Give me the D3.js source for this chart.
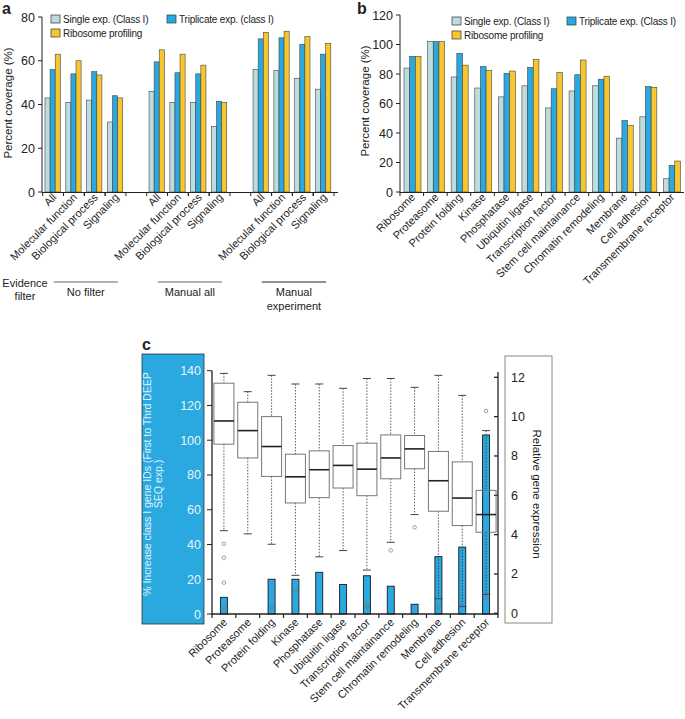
<!DOCTYPE html>
<html>
<head>
<meta charset="utf-8">
<script src="https://cdn.jsdelivr.net/npm/d3@7"></script>
<style>
body { margin: 0; background: #fff; }
text { font-family: "Liberation Sans", Arial, sans-serif; fill: #222; }
</style>
</head>
<body>
<svg width="685" height="719"></svg>
<script>
// shared legend / colours
const seriesNames = ['Single exp. (Class I)', 'Triplicate exp. (class I)', 'Ribosome profiling']
const seriesNamesB = ['Single exp. (Class I)', 'Triplicate exp. (Class I)', 'Ribosome profiling']
const colors = ['#bcdcdf', '#29a9e0', '#f7c62e']

// panel a
const aCategories = ['All', 'Molecular function', 'Biological process', 'Signaling']
const aFilters = [['No filter'], ['Manual all'], ['Manual', 'experiment']]
const aSingle = [43, 41, 42, 32, 46, 41, 41, 30, 56, 55.5, 52, 47]
const aTriplicate = [56, 54, 55, 44, 59.5, 54.5, 54, 41.5, 70, 70.5, 67.5, 63]
const aRibosome = [63, 60, 53.5, 43, 65, 63, 58, 41, 73, 73.5, 71, 68]
const aTicks = [0, 20, 40, 60, 80]

// panel b
const bCategories = ['Ribosome', 'Proteasome', 'Protein folding', 'Kinase', 'Phosphatase', 'Ubiquitin ligase',
  'Transcription factor', 'Stem cell maintainance', 'Chromatin remodeling', 'Membrane', 'Cell adhesion',
  'Transmembrane receptor']
const bSingle = [84, 102, 78, 70.5, 64.5, 72, 57, 68.5, 72, 36.5, 51, 9]
const bTriplicate = [92, 102, 94, 85, 80.5, 84.5, 70, 79.5, 76.5, 48.5, 71.5, 18]
const bRibosome = [92, 102, 86, 82.5, 82, 90, 81, 89.5, 78.5, 45, 71, 21]
const bTicks = [0, 20, 40, 60, 80, 100, 120]

// panel c
const cIncrease = [9.6, 0, 20, 20, 24, 17, 22, 16, 5.6, 33, 38.5, 103]
const cWhiskerHigh = [12.2, 11.27, 12.1, 11.66, 11.66, 11.44, 11.94, 11.94, 11.49, 12.1, 11.08, 9.29]
const cQ3 = [11.7, 10.73, 10.0, 8.09, 8.26, 8.53, 8.65, 9.07, 9.04, 8.23, 7.7, 6.25]
const cMedian = [9.78, 9.29, 8.48, 6.94, 7.3, 7.52, 7.33, 7.9, 8.36, 6.74, 5.86, 5.02]
const cQ1 = [8.6, 7.9, 6.96, 5.61, 5.88, 6.37, 5.98, 6.84, 7.35, 5.19, 4.46, 4.12]
const cWhiskerLow = [4.2, 4.04, 3.51, 1.93, 2.87, 3.19, 2.2, 3.61, 5.02, 0.74, 0.34, 0.96]
const cOutliers = [[3.53, 2.83, 1.56, 0.29], [], [0.32], [1.13], [], [], [0.42, 0.32], [3.2], [4.37], [0.32], [], [10.29, 0.79]]
const cLeftTicks = [0, 20, 40, 60, 80, 100, 120, 140]
const cRightTicks = [0, 2, 4, 6, 8, 10, 12]

const svg = d3.select('svg')

function legend(g, names, x0, x1, y0) {
  const pos = [[x0, y0], [x1, y0], [x0, y0 + 14]]
  names.forEach((n, i) => {
    g.append('rect').attr('x', pos[i][0]).attr('y', pos[i][1]).attr('width', 9).attr('height', 8)
      .attr('fill', colors[i]).attr('stroke', '#333').attr('stroke-width', 0.7)
    g.append('text').attr('x', pos[i][0] + 12).attr('y', pos[i][1] + 8).attr('font-size', 10)
      .attr('letter-spacing', -0.2).text(n)
  })
}

function yAxis(g, y, ticks, x) {
  g.append('line').attr('x1', x).attr('x2', x).attr('y1', y(ticks[0]) + 0.5).attr('y2', y(ticks[ticks.length - 1]))
    .attr('stroke', '#222')
  ticks.forEach(t => {
    g.append('line').attr('x1', x - 4).attr('x2', x).attr('y1', y(t)).attr('y2', y(t)).attr('stroke', '#222')
    g.append('text').attr('x', x - 7).attr('y', y(t) + 4.5).attr('text-anchor', 'end')
      .attr('font-size', 12.5).text(t)
  })
}

function groupedBars(g, sub, y, values) {
  values.forEach((vals, s) => {
    g.selectAll(null).data(vals).enter().append('rect')
      .attr('x', d => d.x + sub(s))
      .attr('y', d => y(d.v))
      .attr('width', sub.bandwidth())
      .attr('height', d => y(0) - y(d.v))
      .attr('fill', colors[s]).attr('stroke', '#444').attr('stroke-width', 0.6)
  })
}

// ---------- panel a ----------
const ga = svg.append('g')
const slots = []
aFilters.forEach((f, fi) => aCategories.forEach((c, ci) => slots.push({ slot: fi * 5 + ci, label: c, i: slots.length })))
const xa = d3.scaleBand().domain(d3.range(14)).range([42.7, 334])
const ya = d3.scaleLinear().domain([0, 80]).range([192, 17])
const suba = d3.scaleBand().domain([0, 1, 2]).range([2.3, 17.6])
const aSeries = [aSingle, aTriplicate, aRibosome].map(arr => slots.map(s => ({ x: xa(s.slot), v: arr[s.i] })))
groupedBars(ga, suba, ya, aSeries)
yAxis(ga, ya, aTicks, 42)
ga.append('line').attr('x1', 42).attr('x2', 338).attr('y1', 192.5).attr('y2', 192.5).attr('stroke', '#222')
slots.forEach(s => {
  [xa(s.slot), xa(s.slot) + xa.bandwidth()].forEach(px => {
    ga.append('line').attr('x1', px).attr('x2', px).attr('y1', 192).attr('y2', 196).attr('stroke', '#222')
  })
  ga.append('text').attr('transform', `translate(${xa(s.slot) + xa.bandwidth() / 2 + 4},198) rotate(-45)`)
    .attr('text-anchor', 'end').attr('font-size', 11).text(s.label)
})
ga.append('text').attr('transform', 'translate(12,103) rotate(-90)').attr('text-anchor', 'middle')
  .attr('font-size', 11.5).text('Percent coverage (%)')
legend(ga, seriesNames, 51, 167, 15)
ga.append('text').attr('x', 2).attr('y', 14).attr('font-size', 16).attr('font-weight', 'bold').text('a')
ga.append('text').attr('x', 25).attr('y', 287).attr('text-anchor', 'middle').attr('font-size', 11).text('Evidence')
ga.append('text').attr('x', 25).attr('y', 300).attr('text-anchor', 'middle').attr('font-size', 11).text('filter')
aFilters.forEach((f, fi) => {
  const x0 = xa(fi * 5) + 11, x1 = xa(fi * 5 + 3) + xa.bandwidth() - 8
  ga.append('line').attr('x1', x0).attr('x2', x1).attr('y1', 282).attr('y2', 282)
    .attr('stroke', fi === 2 ? '#222' : '#666').attr('stroke-width', 1.2)
  f.forEach((line, li) => {
    ga.append('text').attr('x', (x0 + x1) / 2).attr('y', 296 + li * 13.5).attr('text-anchor', 'middle')
      .attr('font-size', 11).text(line)
  })
})

// ---------- panel b ----------
const gb = svg.append('g')
const xb = d3.scaleBand().domain(bCategories).range([400, 683])
const yb = d3.scaleLinear().domain([0, 120]).range([192, 15])
const subb = d3.scaleBand().domain([0, 1, 2]).range([4, 21])
const bSeries = [bSingle, bTriplicate, bRibosome].map(arr => bCategories.map((c, i) => ({ x: xb(c), v: arr[i] })))
groupedBars(gb, subb, yb, bSeries)
yAxis(gb, yb, bTicks, 400)
gb.append('line').attr('x1', 400).attr('x2', 684).attr('y1', 192.5).attr('y2', 192.5).attr('stroke', '#222')
bCategories.forEach(c => {
  gb.append('line').attr('x1', xb(c)).attr('x2', xb(c)).attr('y1', 192).attr('y2', 196).attr('stroke', '#222')
  gb.append('text').attr('transform', `translate(${xb(c) + xb.bandwidth() / 2 + 4},198) rotate(-45)`)
    .attr('text-anchor', 'end').attr('font-size', 11).text(c)
})
gb.append('text').attr('transform', 'translate(369,101) rotate(-90)').attr('text-anchor', 'middle')
  .attr('font-size', 11.5).text('Percent coverage (%)')
legend(gb, seriesNamesB, 452, 567, 17)
gb.append('text').attr('x', 357).attr('y', 14).attr('font-size', 16).attr('font-weight', 'bold').text('b')

// ---------- panel c ----------
const gc = svg.append('g')
const xc = d3.scaleBand().domain(bCategories).range([212, 498])
const yl = d3.scaleLinear().domain([0, 140]).range([614, 370.7])
const yr = d3.scaleLinear().domain([0, 12]).range([613.3, 377.3])

gc.append('text').attr('x', 142).attr('y', 350).attr('font-size', 16).attr('font-weight', 'bold').text('c')
// blue label box
gc.append('rect').attr('x', 142).attr('y', 354).attr('width', 62).attr('height', 270)
  .attr('fill', '#29a9e0').attr('stroke', '#333').attr('stroke-width', 0.8)
;['% Increase class I gene IDs (First to Thrd DEEP', 'SEQ exp.)'].forEach((t, i) => {
  gc.append('text').attr('transform', `translate(${151 + i * 11},484) rotate(-90)`).attr('text-anchor', 'middle')
    .attr('font-size', 10.8).attr('letter-spacing', -0.15).style('fill', '#dff1fa').text(t)
})
cLeftTicks.forEach(t => {
  gc.append('text').attr('x', 201).attr('y', yl(t) + 4.5).attr('text-anchor', 'end')
    .attr('font-size', 12.5).style('fill', '#e8f5fb').text(t)
  gc.append('line').attr('x1', 207).attr('x2', 212).attr('y1', yl(t)).attr('y2', yl(t)).attr('stroke', '#222')
})
gc.append('line').attr('x1', 212).attr('x2', 212).attr('y1', 370.7).attr('y2', 614.5).attr('stroke', '#222').attr('stroke-width', 1.3)

// right label box
gc.append('rect').attr('x', 505).attr('y', 356).attr('width', 47).attr('height', 267)
  .attr('fill', '#fff').attr('stroke', '#888').attr('stroke-width', 1)
cRightTicks.forEach(t => {
  gc.append('text').attr('x', 511).attr('y', yr(t) + 4.5).attr('font-size', 12.5).text(t)
  gc.append('line').attr('x1', 494).attr('x2', 498).attr('y1', yr(t)).attr('y2', yr(t)).attr('stroke', '#222').attr('stroke-width', 1.3)
})
gc.append('line').attr('x1', 498).attr('x2', 498).attr('y1', 372).attr('y2', 614.5).attr('stroke', '#222').attr('stroke-width', 1.3)
gc.append('text').attr('transform', 'translate(533,494) rotate(90)').attr('text-anchor', 'middle')
  .attr('font-size', 11.5).text('Relative gene expression')

// blue bars (left scale)
gc.selectAll(null).data(cIncrease).enter().append('rect')
  .attr('x', (d, i) => xc(bCategories[i]) + xc.bandwidth() / 2 - 3.5)
  .attr('y', d => yl(d))
  .attr('width', 7)
  .attr('height', d => yl(0) - yl(d))
  .attr('fill', '#29a9e0').attr('stroke', '#1a1a1a').attr('stroke-width', d => d > 0 ? 0.9 : 0)

// box plots (right scale)
const boxW = 20, capW = 8
bCategories.forEach((c, i) => {
  const cx = xc(c) + xc.bandwidth() / 2
  const b = gc.append('g')
  b.append('line').attr('x1', cx).attr('x2', cx).attr('y1', yr(cWhiskerHigh[i])).attr('y2', yr(cQ3[i]))
    .attr('stroke', '#333').attr('stroke-dasharray', '1.5,1.5').attr('stroke-width', 0.8)
  b.append('line').attr('x1', cx).attr('x2', cx).attr('y1', yr(cQ1[i])).attr('y2', yr(cWhiskerLow[i]))
    .attr('stroke', '#333').attr('stroke-dasharray', '1.5,1.5').attr('stroke-width', 0.8)
  ;[cWhiskerHigh[i], cWhiskerLow[i]].forEach(v => {
    b.append('line').attr('x1', cx - capW / 2).attr('x2', cx + capW / 2).attr('y1', yr(v)).attr('y2', yr(v))
      .attr('stroke', '#444').attr('stroke-width', 1)
  })
  b.append('rect').attr('x', cx - boxW / 2).attr('y', yr(cQ3[i])).attr('width', boxW)
    .attr('height', yr(cQ1[i]) - yr(cQ3[i])).attr('fill', 'none').attr('stroke', '#777').attr('stroke-width', 1)
  b.append('line').attr('x1', cx - boxW / 2).attr('x2', cx + boxW / 2).attr('y1', yr(cMedian[i])).attr('y2', yr(cMedian[i]))
    .attr('stroke', '#222').attr('stroke-width', 1.6)
  cOutliers[i].forEach(v => {
    b.append('circle').attr('cx', cx).attr('cy', yr(v)).attr('r', 1.8)
      .attr('fill', 'none').attr('stroke', '#777').attr('stroke-width', 0.7)
  })
})

// bottom axis
gc.append('line').attr('x1', 212).attr('x2', 498).attr('y1', 614).attr('y2', 614).attr('stroke', '#222').attr('stroke-width', 1.3)
bCategories.concat([null]).forEach(c => {
  const px = c ? xc(c) : 498
  gc.append('line').attr('x1', px).attr('x2', px).attr('y1', 614).attr('y2', 618).attr('stroke', '#222').attr('stroke-width', 1.2)
  if (c) gc.append('text').attr('transform', `translate(${xc(c) + xc.bandwidth() / 2 + 4},623) rotate(-45)`)
    .attr('text-anchor', 'end').attr('font-size', 11).text(c)
})
</script>
</body>
</html>
